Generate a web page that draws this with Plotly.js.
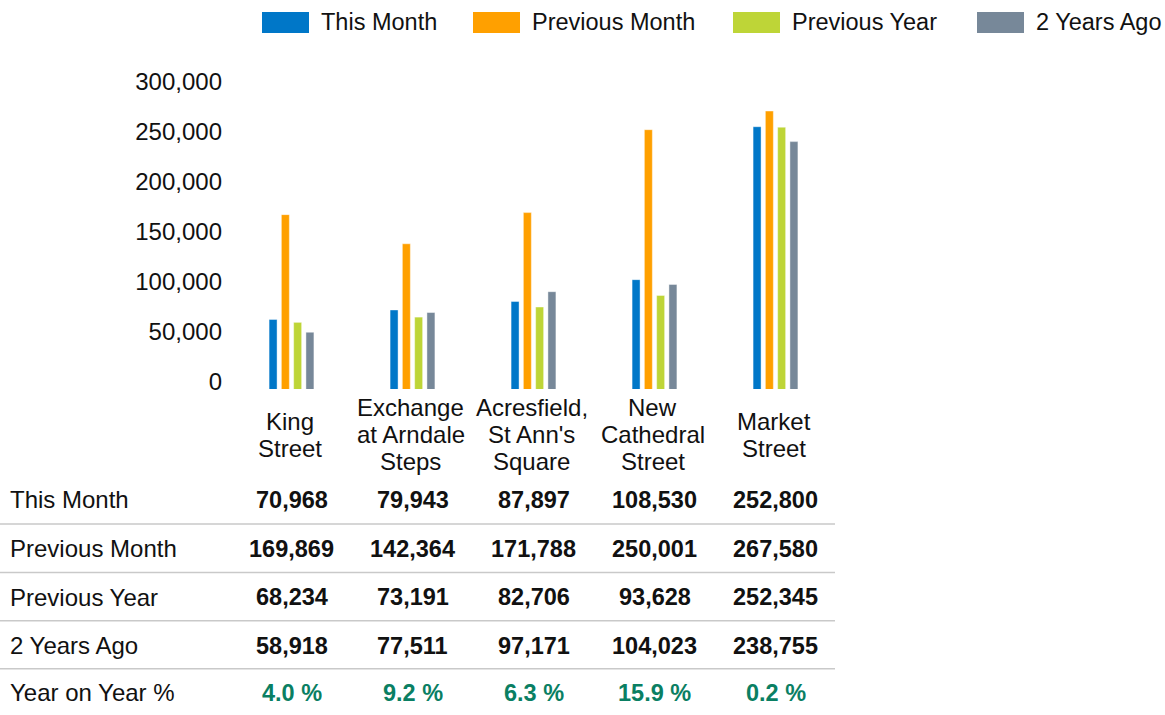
<!DOCTYPE html>
<html>
<head>
<meta charset="utf-8">
<script src="https://cdn.plot.ly/plotly-3.0.1.min.js"></script>
<style>
  html, body { margin: 0; padding: 0; background: #ffffff; }
  #chart { width: 1165px; height: 715px; }
</style>
</head>
<body>
<div id="chart"></div>
<script>
// ---------- data ----------
var categories = ["King<br>Street", "Exchange<br>at Arndale<br>Steps", "Acresfield,<br>St Ann's<br>Square", "New<br>Cathedral<br>Street", "Market<br>Street"];
var seriesNames = ["This Month", "Previous Month", "Previous Year", "2 Years Ago"];
var thisMonth     = [70968, 79943, 87897, 108530, 252800];
var previousMonth = [169869, 142364, 171788, 250001, 267580];
var previousYear  = [68234, 73191, 82706, 93628, 252345];
var twoYearsAgo   = [58918, 77511, 97171, 104023, 238755];
var yearOnYear    = [4.0, 9.2, 6.3, 15.9, 0.2];
var yTickVals     = [0, 50000, 100000, 150000, 200000, 250000, 300000];
var yoyLabel      = "Year on Year %";

// ---------- styling ----------
var colors = ["#0077c8", "#ffa000", "#bed537", "#778899"];
var FONT = "Liberation Sans, Arial, Helvetica, sans-serif";
var W = 1165, H = 715;
var L = 231, R = 836, T = 60, B = 389;
function px(x) { return (x - L) / (R - L); }
function py(y) { return (B - y) / (B - T); }
function fmt(n) { return String(n).replace(/\B(?=(\d{3})+(?!\d))/g, ","); }

var seriesValues = [thisMonth, previousMonth, previousYear, twoYearsAgo];

var traces = seriesValues.map(function (vals, i) {
  return {
    type: "bar",
    name: seriesNames[i],
    x: categories,
    y: vals,
    marker: { color: colors[i], line: { width: 0.6, color: "rgba(255,255,255,0.7)" } },
    hoverinfo: "skip",
    showlegend: false
  };
});
// empty helper trace so the tick-label axis (y2) is drawn
traces.push({
  type: "scatter", mode: "markers", x: [categories[0]], y: [null],
  yaxis: "y2", hoverinfo: "skip", showlegend: false
});

var annotations = [];
var shapes = [];

// legend (custom, wide swatches)
var legendSwatchX = [262, 473, 733, 977];
seriesNames.forEach(function (name, i) {
  var x0 = legendSwatchX[i];
  shapes.push({
    type: "rect", xref: "paper", yref: "paper",
    x0: px(x0), x1: px(x0 + 47), y0: py(33), y1: py(12),
    fillcolor: colors[i], line: { width: 0 }
  });
  annotations.push({
    xref: "paper", yref: "paper", x: px(x0 + 57), y: py(22),
    xanchor: "left", yanchor: "middle", showarrow: false,
    text: name, font: { family: FONT, size: 23.5, color: "#111111" }
  });
});

// category labels, one annotation per line (tight line spacing)
categories.forEach(function (cat) {
  var lines = cat.split("<br>");
  var n = lines.length;
  lines.forEach(function (ln, j) {
    var yc = 434.5 + (j - (n - 1) / 2) * 27;
    annotations.push({
      xref: "x", yref: "paper", x: cat, y: py(yc),
      xanchor: "center", yanchor: "middle", showarrow: false, xshift: -2,
      text: ln, font: { family: FONT, size: 24, color: "#111111" }
    });
  });
});

// data table
var rowY = [499.5, 548.5, 597, 645.5, 692.5];
var rowLabels = seriesNames.concat([yoyLabel]);
var rowValues = seriesValues.map(function (vals) { return vals.map(fmt); })
  .concat([yearOnYear.map(function (v) { return v.toFixed(1) + " %"; })]);
rowLabels.forEach(function (lab, r) {
  annotations.push({
    xref: "paper", yref: "paper", x: px(8), y: py(rowY[r]),
    xanchor: "left", yanchor: "middle", showarrow: false,
    text: lab, font: { family: FONT, size: 24, color: "#111111" }
  });
  rowValues[r].forEach(function (val, c) {
    annotations.push({
      xref: "x", yref: "paper", x: categories[c], y: py(rowY[r]),
      xanchor: "center", yanchor: "middle", showarrow: false,
      text: "<b>" + val + "</b>",
      font: { family: FONT, size: 23.5, color: r === rowLabels.length - 1 ? "#0a7f63" : "#111111" }
    });
  });
});
[524, 572.5, 620.7, 668.7].forEach(function (yl) {
  shapes.push({
    type: "line", xref: "paper", yref: "paper",
    x0: px(0), x1: px(835), y0: py(yl), y1: py(yl),
    line: { color: "#c9c9c9", width: 1.5 }
  });
});

var layout = {
  width: W, height: H,
  margin: { l: L, r: W - R, t: T, b: H - B, pad: 0 },
  paper_bgcolor: "#ffffff",
  plot_bgcolor: "#ffffff",
  barmode: "group",
  bargap: 0.594,
  bargroupgap: 0.35,
  showlegend: false,
  font: { family: FONT, size: 23, color: "#111111" },
  xaxis: {
    type: "category",
    showticklabels: false, showgrid: false, zeroline: false, showline: false, ticks: ""
  },
  yaxis: {
    range: [5380, 315750],
    showticklabels: false, showgrid: false, zeroline: false, showline: false, ticks: ""
  },
  yaxis2: {
    overlaying: "y", side: "left",
    range: [-7300, 321700],
    tickmode: "array", tickvals: yTickVals, tickformat: ",d",
    tickfont: { family: FONT, size: 24, color: "#111111" },
    showgrid: false, zeroline: false, showline: false, ticks: "",
    ticklabelstandoff: 8
  },
  annotations: annotations,
  shapes: shapes
};

Plotly.newPlot("chart", traces, layout, { staticPlot: true, displayModeBar: false });
</script>
</body>
</html>
